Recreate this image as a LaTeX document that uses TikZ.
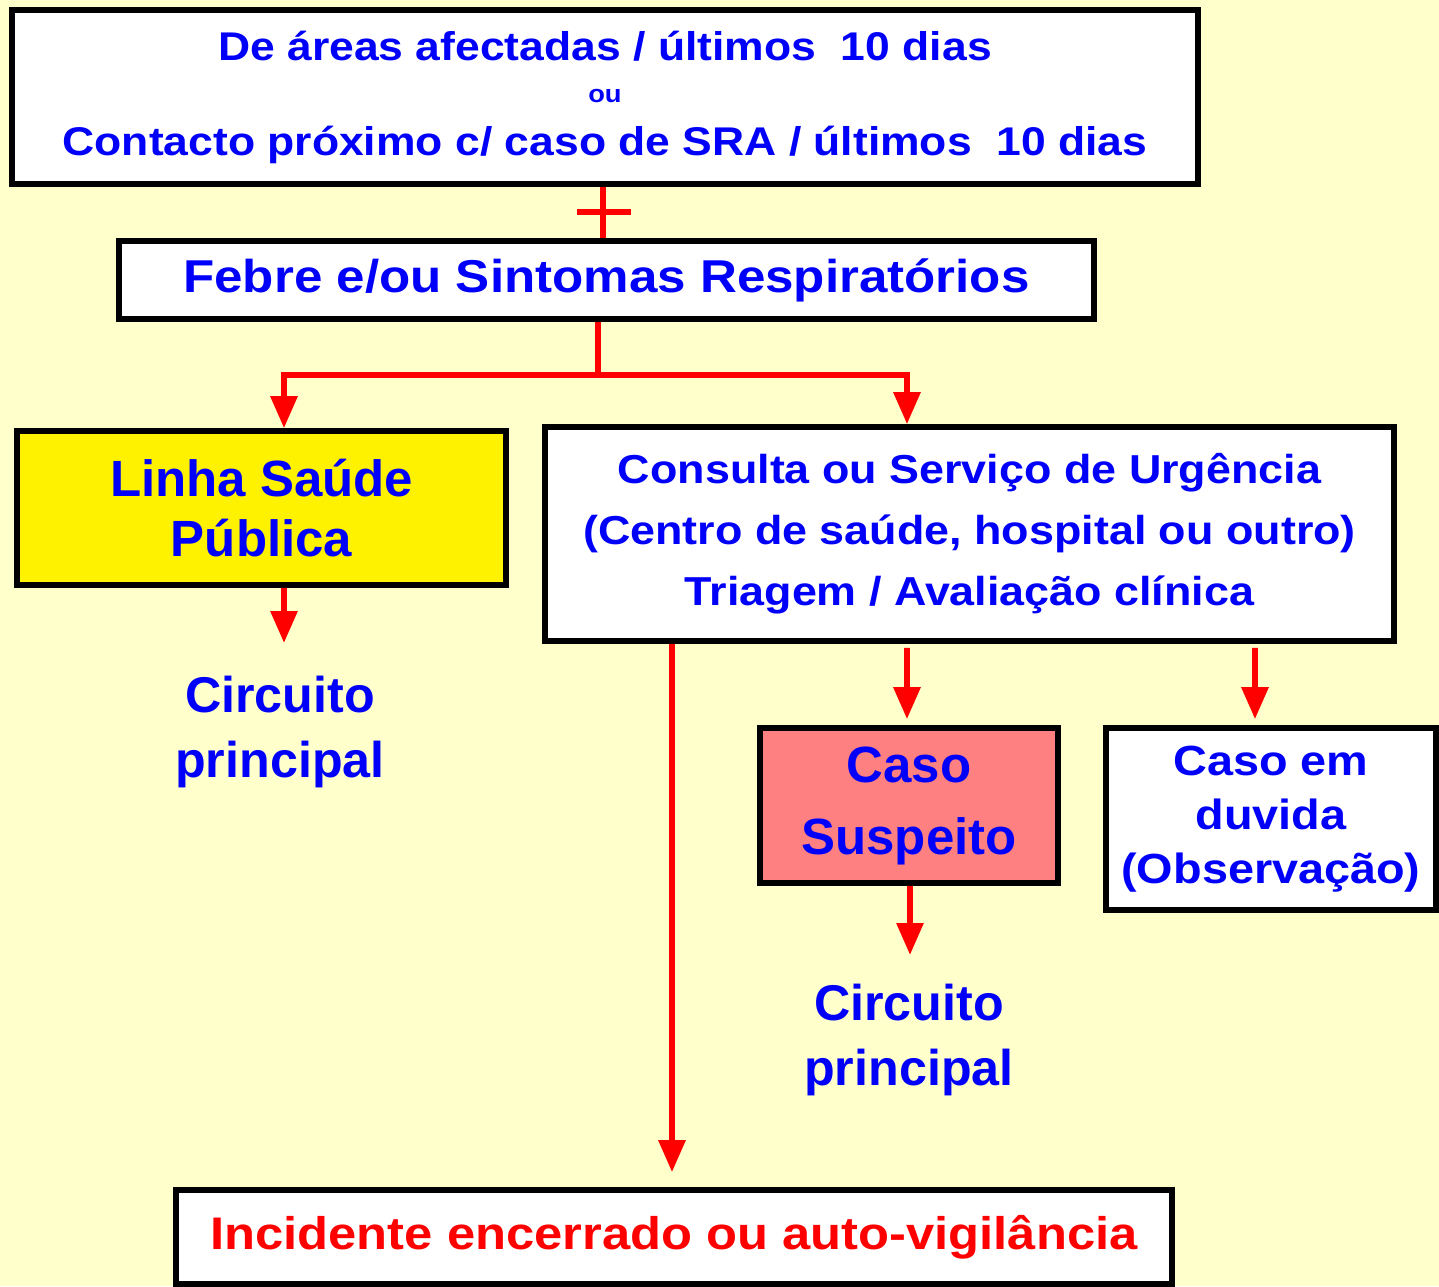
\documentclass[tikz,border=0pt]{standalone}
\usepackage{fontspec}
\setmainfont{Liberation Sans}
\newfontfamily\widefont[FakeStretch=1.11]{Liberation Sans}
\usetikzlibrary{arrows.meta}
\definecolor{bgyellow}{RGB}{255,255,204}
\definecolor{txtblue}{RGB}{0,0,250}
\definecolor{arrred}{RGB}{255,0,0}
\definecolor{suspred}{RGB}{255,128,128}

\begin{document}
\begin{tikzpicture}[
  box/.style = {draw=black, line width=1.6pt, fill=white, align=center,
                text=txtblue, font=\bfseries, inner sep=0pt},
  redline/.style = {draw=arrred, line width=1.7pt},
  arr/.style = {redline, -{Triangle[width=0.26cm,length=0.32cm]}},
  label/.style = {align=center, text=txtblue, font=\bfseries}
]
\useasboundingbox[fill=bgyellow] (0,0) rectangle (14.39,-12.86);

\node[box, minimum width=11.86cm, minimum height=1.74cm, font=\widefont\bfseries] (areas) at (6.05,-0.97)
  {\fontsize{11.4}{13}\selectfont De áreas afectadas / últimos~~10 dias\\[0pt]
   \fontsize{7}{8}\selectfont ou\\[3pt]
   \fontsize{11.4}{13}\selectfont Contacto próximo c/ caso de SRA / últimos~~10 dias};
\node[box, minimum width=9.75cm, minimum height=0.78cm, font=\widefont\bfseries\fontsize{13.1}{15}\selectfont] (febre) at (6.065,-2.80)
  {Febre e/ou Sintomas Respiratórios};

\node[box, fill=yellow, minimum width=4.89cm, minimum height=1.54cm, font=\bfseries\fontsize{14.5}{17}\selectfont] (linha) at (2.615,-5.08)
  {Linha Saúde\\ Pública};
\node[box, minimum width=8.49cm, minimum height=2.14cm, font=\widefont\bfseries\fontsize{11.5}{17.4}\selectfont] (consulta) at (9.695,-5.34)
  {Consulta ou Serviço de Urgência\\ (Centro de saúde, hospital ou outro)\\ Triagem / Avaliação clínica};

\node[label, font=\bfseries\fontsize{14.3}{18.5}\selectfont] (circ1) at (2.80,-7.32) {Circuito\\ principal};

\node[box, fill=suspred, minimum width=2.98cm, minimum height=1.55cm, font=\bfseries\fontsize{14.5}{20.5}\selectfont] (suspeito) at (9.09,-8.055)
  {Caso\\ Suspeito};
\node[box, minimum width=3.30cm, minimum height=1.82cm, font=\widefont\bfseries\fontsize{12}{15.4}\selectfont] (duvida) at (12.71,-8.19)
  {Caso em\\ duvida\\ (Observação)};

\node[label, font=\bfseries\fontsize{14.3}{18.5}\selectfont] (circ2) at (9.09,-10.40) {Circuito\\ principal};

\node[box, text=arrred, minimum width=9.96cm, minimum height=0.94cm, font=\widefont\bfseries\fontsize{13}{15}\selectfont] (final) at (6.74,-12.37)
  {Incidente encerrado ou auto-vigilância};

\coordinate (c1tip) at (2.84,-6.43);
\coordinate (c2tip) at (9.10,-9.55);

% plus sign between the two top boxes
\draw[redline] ([xshift=-0.02cm]areas.south) -- ([xshift=-0.035cm]febre.north);
\draw[redline] (5.77,-2.12) -- (6.31,-2.12);

% branch
\draw[redline] ([xshift=-0.085cm]febre.south) -- ++(0,-0.53) coordinate (split);
\draw[arr] (split) -| ([xshift=0.225cm]linha.north);
\draw[arr] (split) -| ([xshift=-0.625cm]consulta.north);

\draw[arr] ([xshift=0.225cm]linha.south) -- (c1tip);
\draw[arr] ([xshift=-2.975cm]consulta.south) -- ([xshift=-0.02cm,yshift=0.15cm]final.north);
\draw[arr] ([xshift=-0.625cm,yshift=-0.04cm]consulta.south) -- ([xshift=-0.02cm,yshift=0.06cm]suspeito.north);
\draw[arr] ([xshift=2.855cm,yshift=-0.04cm]consulta.south) -- ([xshift=-0.16cm,yshift=0.06cm]duvida.north);
\draw[arr] ([xshift=0.01cm]suspeito.south) -- (c2tip);
\end{tikzpicture}
\end{document}
